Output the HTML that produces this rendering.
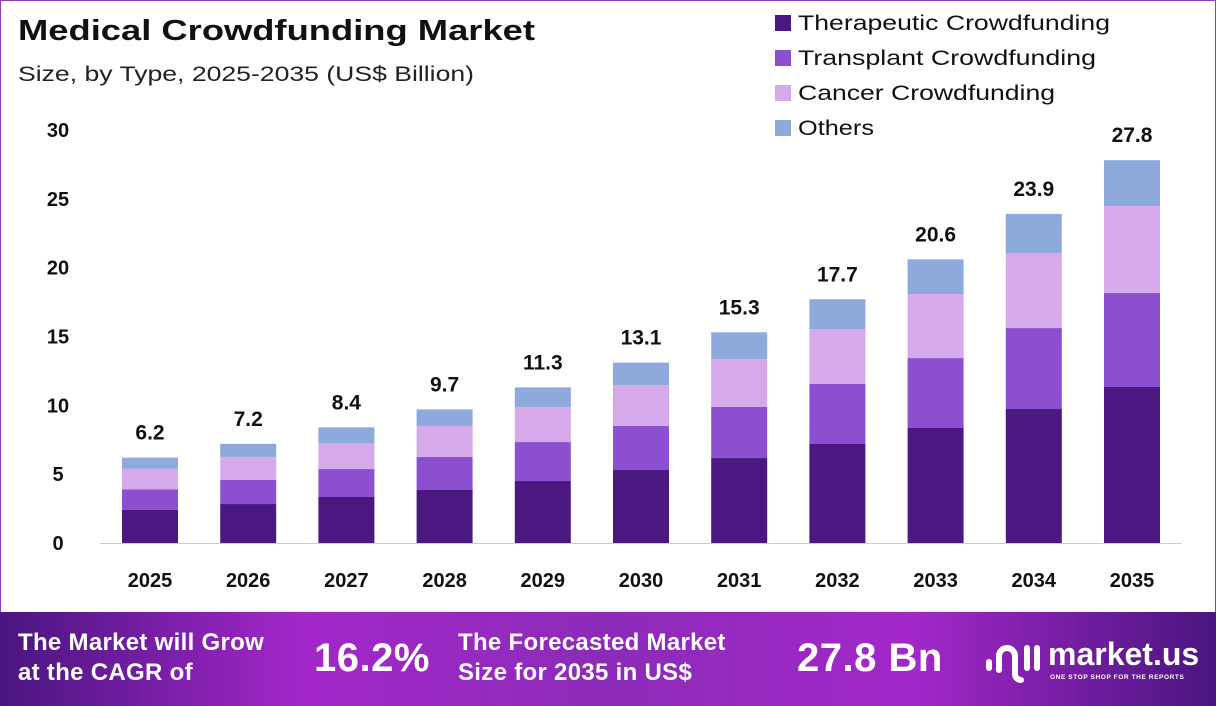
<!DOCTYPE html>
<html><head><meta charset="utf-8"><style>
body{margin:0;width:1216px;height:706px;overflow:hidden;background:#fff;font-family:"Liberation Sans",sans-serif}
#frame{position:absolute;left:0;top:0;width:1214px;height:704px;border:1px solid #8a3fc0;border-bottom:none}
#footer{position:absolute;left:0;top:612px;width:1216px;height:94px;background:linear-gradient(90deg,#4a1580 0%,#a327c9 25%,#8c2bb8 50%,#a327c9 75%,#4a1580 100%);color:#fff;font-weight:bold}
.ft{position:absolute;font-size:24px;line-height:30px;letter-spacing:0.3px}
.big{position:absolute;font-size:40px;top:24px;letter-spacing:0.5px}
</style></head><body>
<div id="frame"></div>
<svg id="chart" width="1216" height="612" style="position:absolute;left:0;top:0">
<text x="18" y="40" font-size="29" font-weight="bold" fill="#111" textLength="517" lengthAdjust="spacingAndGlyphs">Medical Crowdfunding Market</text>
<text x="18" y="81" font-size="21" fill="#222" textLength="456" lengthAdjust="spacingAndGlyphs">Size, by Type, 2025-2035 (US$ Billion)</text>
<g id="legend"></g><g id="axes"></g><g id="bars"></g>
</svg>
<div id="footer">
<div class="ft" style="left:18px;top:16px">The Market will Grow<br>at the CAGR of</div>
<div class="big" style="left:314px">16.2%</div>
<div class="ft" style="left:458px;top:16px">The Forecasted Market<br>Size for 2035 in US$</div>
<div class="big" style="left:797px">27.8 Bn</div>
<svg style="position:absolute;left:985px;top:26px" width="56" height="50">
<g fill="none" stroke="#fff" stroke-width="6" stroke-linecap="round">
<path d="M4 30 L4 24"/><path d="M14 32 V18 a8 8 0 0 1 16 0 V36 a6 6 0 0 0 6 6"/><path d="M42 30 V10"/><path d="M52 30 V10"/></g></svg>
<div style="position:absolute;left:1048px;top:24px;font-size:32px">market.us</div>
<div style="position:absolute;left:1050px;top:62px;font-size:6.5px;letter-spacing:0.6px">ONE STOP SHOP FOR THE REPORTS</div>
</div>
<script>
const years=["2025","2026","2027","2028","2029","2030","2031","2032","2033","2034","2035"];
const therapeutic=[2.4,2.83,3.34,3.85,4.5,5.3,6.17,7.19,8.35,9.73,11.33];
const transplant=[1.5,1.75,2.03,2.4,2.83,3.2,3.71,4.36,5.08,5.88,6.83];
const cancer=[1.5,1.67,1.89,2.25,2.55,2.97,3.48,3.99,4.65,5.45,6.31];
const others=[0.8,0.95,1.14,1.2,1.42,1.63,1.94,2.16,2.52,2.84,3.33];
const totals=["6.2","7.2","8.4","9.7","11.3","13.1","15.3","17.7","20.6","23.9","27.8"];
const yTicks=[0,5,10,15,20,25,30];
const seriesNames=["Therapeutic Crowdfunding","Transplant Crowdfunding","Cancer Crowdfunding","Others"];
const legendWidths=[312,298,257,76];
const colors=["#4b1882","#8b4fd0","#d6aaea","#8ea9dc"];
const NS="http://www.w3.org/2000/svg";
const y=v=>543-v*13.77;
const x=i=>150+i*98.2;
function mk(t,a,p){const e=document.createElementNS(NS,t);for(const k in a)e.setAttribute(k,a[k]);p.appendChild(e);return e;}
const ax=document.getElementById('axes');
const base=mk('line',{x1:100,x2:1182,y1:543.5,y2:543.5,stroke:'#ccc'},ax);


yTicks.forEach(t=>{const e=mk('text',{x:58,y:y(t)+7,'text-anchor':'middle','font-size':20,'font-weight':'bold',fill:'#111'},ax);e.textContent=t;

});
const bg=document.getElementById('bars');
const series=[therapeutic,transplant,cancer,others];
years.forEach((yr,i)=>{let acc=0;
series.forEach((s,k)=>{const r=mk('rect',{x:x(i)-28,width:56,y:y(acc+s[i]),height:s[i]*13.77,fill:colors[k]},bg);acc+=s[i];

});
const lt=mk('text',{x:x(i),y:y(acc)-18,'text-anchor':'middle','font-size':21,'font-weight':'bold',fill:'#111'},bg);lt.textContent=totals[i];


const xt=mk('text',{x:x(i),y:587,'text-anchor':'middle','font-size':20,'font-weight':'bold',fill:'#111'},bg);xt.textContent=yr;

});
const lg=document.getElementById('legend');
seriesNames.forEach((n,k)=>{const r=mk('rect',{x:775,y:15+k*35,width:16,height:16,fill:colors[k]},lg);


const t=mk('text',{x:798,y:30+k*35,'font-size':21,fill:'#111',textLength:legendWidths[k],lengthAdjust:'spacingAndGlyphs'},lg);t.textContent=n;

});
</script>
</body></html>
